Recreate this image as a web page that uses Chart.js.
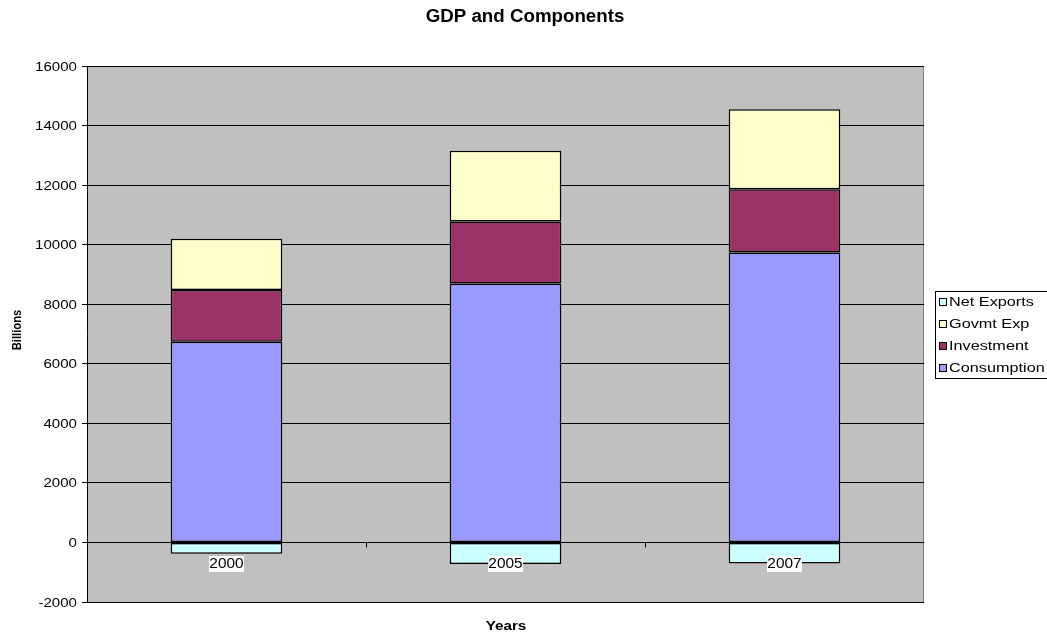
<!DOCTYPE html>
<html>
<head>
<meta charset="utf-8">
<script src="https://cdn.jsdelivr.net/npm/chart.js@4/dist/chart.umd.min.js"></script>
<style>
  html, body { margin: 0; padding: 0; background: #fff; }
  #wrap { width: 1047px; height: 634px; position: relative; }
</style>
</head>
<body>
<div id="wrap"><canvas id="gdpChart"></canvas></div>
<script>
// ------------------- Data -------------------
const years = ['2000', '2005', '2007'];
const consumption = [6739, 8694, 9734];
const investment = [1736, 2087, 2125];
const govtExp = [1721, 2369, 2690];
const netExports = [-379, -723, -708];

const yMin = -2000;
const yMax = 16000;
const yStep = 2000;

const FONT = 'Arial, "Liberation Sans", sans-serif';

// text is a bit wider in the original, so stretch horizontally
function drawText(ctx, txt, x, y, font, sx, align) {
    ctx.save();
    ctx.font = font;
    ctx.textBaseline = 'middle';
    ctx.textAlign = 'left';
    const w = ctx.measureText(txt).width * sx;
    let left = x;
    if (align === 'center') left = x - w / 2;
    else if (align === 'right') left = x - w;
    ctx.translate(left, y);
    ctx.scale(sx, 1);
    ctx.fillText(txt, 0, 0);
    ctx.restore();
    return w;
}

// ------------------- Custom drawing (plot bg, labels, legend) -------------------
const extras = {
    id: 'extras',
    beforeDraw(chart) {
        const { ctx, chartArea: a } = chart;
        ctx.save();
        ctx.fillStyle = '#c0c0c0';
        ctx.fillRect(a.left, a.top, a.right - a.left, a.bottom - a.top);
        ctx.strokeStyle = '#808080';
        ctx.lineWidth = 1;
        ctx.beginPath();
        ctx.moveTo(a.left, a.top + 0.5);
        ctx.lineTo(a.right - 0.5, a.top + 0.5);
        ctx.lineTo(a.right - 0.5, a.bottom);
        ctx.stroke();
        ctx.restore();
    },
    afterDatasetsDraw(chart) {
        const { ctx, chartArea: a, scales } = chart;
        const x = scales.x, y = scales.y;
        const y0 = Math.round(y.getPixelForValue(0)) + 0.5;
        ctx.save();
        // zero axis line + ticks between categories
        ctx.strokeStyle = '#000';
        ctx.lineWidth = 1;
        ctx.beginPath();
        ctx.moveTo(a.left, y0);
        ctx.lineTo(a.right, y0);
        for (let i = 1; i < years.length; i++) {
            const px = Math.round((x.getPixelForValue(i - 1) + x.getPixelForValue(i)) / 2) + 0.5;
            ctx.moveTo(px, y0);
            ctx.lineTo(px, y0 + 5);
        }
        ctx.stroke();

        // y tick labels
        ctx.fillStyle = '#000';
        y.ticks.forEach(t => {
            drawText(ctx, String(t.value), 77, y.getPixelForValue(t.value) + 1, '13px ' + FONT, 1.16, 'right');
        });

        // category labels with white boxes
        years.forEach((lbl, i) => {
            const px = x.getPixelForValue(i);
            ctx.fillStyle = '#fff';
            ctx.fillRect(Math.round(px - 17.5), y0 + 13.5, 35, 16);
            ctx.fillStyle = '#000';
            drawText(ctx, lbl, px, y0 + 22, '14px ' + FONT, 1.1, 'center');
        });

        // titles
        ctx.fillStyle = '#000';
        drawText(ctx, 'GDP and Components', 525, 17, 'bold 18px ' + FONT, 1.04, 'center');
        drawText(ctx, 'Years', 506, 627, 'bold 12.5px ' + FONT, 1.22, 'center');
        ctx.save();
        ctx.translate(18, 330);
        ctx.rotate(-Math.PI / 2);
        drawText(ctx, 'Billions', 0, 0, 'bold 12.5px ' + FONT, 0.9, 'center');
        ctx.restore();

        // legend (reverse order)
        const lx = 935.5, ly = 291.5, lw = 120, lh = 87;
        ctx.fillStyle = '#fff';
        ctx.fillRect(lx, ly, lw, lh);
        ctx.strokeStyle = '#000';
        ctx.strokeRect(lx, ly, lw, lh);
        const ds = chart.data.datasets.slice().reverse();
        ds.forEach((d, i) => {
            const cy = 302 + i * 22;
            ctx.fillStyle = d.backgroundColor;
            ctx.fillRect(939.5, Math.round(cy - 4) + 0.5, 7, 7);
            ctx.strokeStyle = '#000';
            ctx.strokeRect(939.5, Math.round(cy - 4) + 0.5, 7, 7);
            ctx.fillStyle = '#000';
            drawText(ctx, d.label, 949, cy + 1, '12.5px ' + FONT, 1.3, 'left');
        });
        ctx.restore();
    }
};

// ------------------- Chart -------------------
const ctx = document.getElementById('gdpChart').getContext('2d');
const gdpChart = new Chart(ctx, {
    type: 'bar',
    data: {
        labels: years,
        datasets: [
            { label: 'Consumption', data: consumption, backgroundColor: '#9999ff' },
            { label: 'Investment', data: investment, backgroundColor: '#993366' },
            { label: 'Govmt Exp', data: govtExp, backgroundColor: '#ffffcc' },
            { label: 'Net Exports', data: netExports, backgroundColor: '#ccffff' }
        ].map(d => Object.assign(d, {
            borderColor: '#000',
            borderWidth: 1.5,
            borderSkipped: false,
            barPercentage: 0.4,
            categoryPercentage: 1
        }))
    },
    options: {
        responsive: true,
        maintainAspectRatio: false,
        animation: false,
        layout: { padding: { top: 66, right: 123, left: 0, bottom: 0 } },
        plugins: {
            legend: { display: false },
            title: { display: false },
            tooltip: { enabled: false }
        },
        scales: {
            x: {
                stacked: true,
                ticks: { display: false },
                grid: { display: false },
                border: { display: false },
                afterFit: s => { s.height = 32; }
            },
            y: {
                stacked: true,
                min: yMin,
                max: yMax,
                ticks: { stepSize: yStep, display: false },
                grid: { color: '#000', lineWidth: 1, tickLength: 5, drawTicks: true },
                border: { color: '#000', width: 1 },
                afterFit: s => { s.width = 87; }
            }
        }
    },
    plugins: [extras]
});
</script>
</body>
</html>
